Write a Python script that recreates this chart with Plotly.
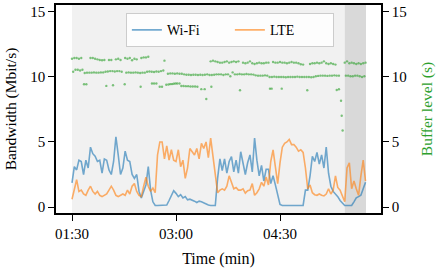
import plotly.graph_objects as go

# ---------------- data ----------------
time_s = list(range(90, 346, 2))  # seconds, 2-s samples

wifi = [
    1.85, 3.1, 2.85, 3.6, 3.5, 2.5, 3.6, 3.0, 4.6, 4.1, 3.9, 3.5, 3.6, 2.6, 3.7, 3.6,
    2.85, 2.5, 3.5, 5.4, 4.0, 2.5, 3.0, 4.3, 3.6, 3.5, 2.5, 2.2, 2.5, 1.2, 0.7, 1.3, 1.7,
    3.1, 1.3, 0.4, 0.12, 0.12, 0.12, 0.12, 0.12, 0.15, 0.5, 0.9, 1.25, 1.05, 0.8, 0.95, 0.7,
    0.8, 0.55, 0.6, 0.55, 0.45, 0.35, 0.45, 0.4, 0.3, 0.2, 0.15, 0.12, 0.12, 0.12, 2.2,
    3.7, 2.8, 3.7, 2.6, 3.5, 3.87, 2.7, 3.6, 2.6, 4.25, 3.3, 2.5, 3.4, 4.0, 2.7, 5.3,
    3.6, 2.4, 3.2, 2.0, 2.9, 2.9, 1.8, 2.4, 1.7, 1.0, 0.2,
    0.12, 0.12, 0.12, 0.12, 0.12, 0.12, 0.12, 0.12, 0.12, 0.12,
    1.3, 1.3, 2.4, 3.9, 3.5, 4.2, 3.3, 4.0, 3.0, 4.6, 2.6, 1.6, 1.2, 1.0, 0.8, 0.5,
    0.3, 0.12, 0.12, 0.12, 0.12, 0.4, 0.7, 0.8, 0.9, 1.4, 1.9,
]

lte = [
    0.6, 1.4, 2.1, 1.2, 1.3, 1.0, 0.9, 1.3, 1.6, 1.2, 1.0, 1.2, 0.9, 0.8, 0.9, 1.0,
    1.3, 1.6, 1.3, 0.9, 0.8, 0.9, 1.0, 0.9, 1.3, 1.0, 1.6, 1.8, 1.2, 0.9, 0.8, 1.6, 2.3,
    1.6, 1.2, 1.45, 1.1, 4.0, 5.0, 5.0, 3.7, 4.7, 3.6, 4.4, 3.6, 3.5, 4.4, 3.1, 3.6,
    2.2, 3.0, 4.5, 4.2, 4.0, 4.5, 3.7, 4.9, 4.5, 5.0, 3.8, 5.3, 4.0, 2.5, 1.1,
    1.3, 1.4, 1.3, 1.6, 2.4, 1.9, 1.4, 1.5, 1.3, 1.3, 1.4, 1.07, 1.25, 1.3, 1.8, 0.9,
    1.1, 1.4, 1.9, 1.6, 2.3, 1.7, 3.5, 4.4, 3.2, 1.8, 3.4,
    4.6, 4.9, 5.0, 5.2, 4.8, 4.8, 4.6, 4.3, 4.4, 4.2,
    3.0, 1.4, 1.7, 1.1, 0.95, 0.9, 1.0, 0.9, 0.85, 1.0, 1.4, 1.0, 1.3, 2.4, 1.5, 1.3,
    0.8, 0.4, 3.0, 3.4, 1.4, 2.0, 1.4, 0.9, 2.4, 3.6, 2.0,
]

# buffer level samples (upper band, lower band, sparse low samples)
buf_hi_t = list(range(90, 346, 2))
buf_hi = [
    11.4, 11.45, 11.45, 11.4, 11.45,
    None, None, None,
    11.45, 11.45, 11.4, 11.35, 11.3,
    11.28, 11.3,
    None,
    11.3, 11.3,
    None,
    11.35, 11.4, 11.3,
    None,
    11.45, 11.4, 11.45,
    11.28,
    11.4, 11.35,
    None,
    11.45, 11.5, 11.5, 11.55,
    None, None, None, None, None, None,
    11.25,
    None, None, None, None, None, None, None, None, None, None,
    None, None, None, None, None, None, None, None, None,
    11.2, 11.25, 11.2, 11.15, 11.1, 11.1, 11.15, 11.2, 11.1, 11.15, 11.2, 11.15, 11.2,
    None,
    11.1, 11.05, 11.1, 11.2, 11.05, 11.0, 11.05, 11.1, 11.05, 11.05, 11.1, 11.1,
    None,
    11.15, 11.1, 11.1, 11.15, 11.1, 11.1, 11.05, 11.1, 11.15, 11.1, 11.1, 11.05,
    10.97, 10.95,
    None, None,
    11.0, 11.05, 11.05, 11.1, 11.05, 11.1, 11.2, 11.05, 11.0, 11.05, 11.0, 10.95,
    None, None, None,
    11.1, 11.2, 11.05, 11.1, 11.05, 11.0, 11.05, 11.0, 11.05, 11.1,
]

buf_lo_t = list(range(91, 345, 2))
buf_lo = [
    10.4, 10.55, 10.55, 10.5, 10.55,
    10.3, 10.33, 10.33, 10.33, 10.35, 10.33, 10.33, 10.35, 10.35,
    10.4, 10.42, 10.45, 10.45, 10.42, 10.45, 10.45, 10.4,
    None,
    10.33, 10.35, 10.33, 10.33, 10.35, 10.33, 10.3, 10.33, 10.33,
    10.4, 10.42, 10.4, 10.38, 10.42, 10.4, 10.45, 10.5,
    None,
    10.25, 10.27, 10.27, 10.25, 10.27, 10.25, 10.25,
    10.2, 10.17, 10.17, 10.15, 10.17, 10.17, 10.15, 10.17, 10.15, 10.17,
    10.2, 10.15, 10.15, 10.17, 10.2, 10.2, 10.2, 10.15, 10.2, 10.2, 10.05,
    10.35, 10.2, 10.2, 10.22, 10.2, 10.2, 10.22, 10.2, 10.2, 10.18,
    10.12, 10.1, 10.1, 10.1, 10.12, 10.1,
    10.0, 10.0, 10.02, 10.0, 10.0, 10.0, 10.0, 9.98, 10.0, 10.0,
    10.0, 10.0, 10.02, 10.0, 10.0, 10.0, 10.0, 10.0, 9.98, 10.0,
    10.05, 10.08, 10.1, 10.1, 10.1, 10.08, 10.1, 10.1, 10.12, 10.1, 10.1,
    None, None,
    10.1, 10.1, 10.05, 10.05, 10.1, 10.1, 10.05, 10.0, 10.05,
]

buf_extra_t = [100.4, 102.4, 119.7, 125.5, 135.6, 149.4, 159.2, 161.0, 163.0, 165.9,
               167.9, 171.6, 173.5, 175.0, 176.5, 178.0, 179.5, 181.0, 183.0, 184.6,
               186.5, 188.5, 190.5, 192.5, 194.5, 196.5, 198.5, 201.9, 204.8, 206.2,
               210.6, 235.4, 261.3, 262.8, 271.5, 293.6, 319.1, 321.0, 322.8, 323.4, 324.2]
buf_extra = [9.44, 9.44, 9.31, 9.36, 9.44, 9.24, 9.49, 9.49, 9.49, 9.24,
             9.24, 9.4, 9.42, 9.45, 9.45, 9.48, 9.5, 9.5, 9.5, 9.3,
             9.3, 9.29, 9.29, 9.27, 9.27, 9.27, 9.25, 9.06, 9.06, 8.3,
             9.24, 8.98, 9.1, 9.1, 9.1, 8.98, 9.0, 9.05, 8.17, 7.02, 5.88]

shade_light = [90, 326]
shade_dark = [326, 344.4]

xtick_vals = [90, 180, 270]
xtick_text = ["01:30", "03:00", "04:30"]
ytick_vals = [0, 5, 10, 15]

assert len(wifi) == len(time_s) and len(lte) == len(time_s)
assert len(buf_hi) == len(buf_hi_t) and len(buf_lo) == len(buf_lo_t)

# ---------------- figure ----------------
FONT = "Liberation Serif"
buf_t, buf_v = [], []
for tt, vv in list(zip(buf_hi_t, buf_hi)) + list(zip(buf_lo_t, buf_lo)) + list(zip(buf_extra_t, buf_extra)):
    if vv is not None:
        buf_t.append(tt)
        buf_v.append(vv)

fig = go.Figure()
fig.add_trace(go.Scatter(x=buf_t, y=buf_v, mode="markers", yaxis="y2", showlegend=False,
                         marker=dict(size=2.4, color="rgba(44,160,44,0.6)", line=dict(width=0))))
fig.add_trace(go.Scatter(x=time_s, y=wifi, mode="lines", name="Wi-Fi",
                         line=dict(color="rgba(31,119,180,0.62)", width=1.6)))
fig.add_trace(go.Scatter(x=time_s, y=lte, mode="lines", name="LTE",
                         line=dict(color="rgba(255,127,14,0.62)", width=1.6)))

fig.add_shape(type="rect", xref="x", yref="paper", x0=shade_light[0], x1=shade_light[1],
              y0=0, y1=1, fillcolor="#f1f1f1", line=dict(width=0), layer="below")
fig.add_shape(type="rect", xref="x", yref="paper", x0=shade_dark[0], x1=shade_dark[1],
              y0=0, y1=1, fillcolor="#d9d9d9", line=dict(width=0), layer="below")

axis_common = dict(showline=True, linecolor="black", linewidth=1.5, ticks="outside",
                   ticklen=6, tickwidth=1.2, tickcolor="black", showgrid=False,
                   zeroline=False, tickfont=dict(family=FONT, size=15, color="black"))

fig.update_layout(
    width=438, height=269,
    margin=dict(l=56, r=57, t=3, b=56),
    paper_bgcolor="white", plot_bgcolor="white",
    font=dict(family=FONT, size=15, color="black"),
    xaxis=dict(range=[76.15, 357.4], tickvals=xtick_vals, ticktext=xtick_text, mirror=True,
               title=dict(text="Time (min)", font=dict(family=FONT, size=16), standoff=12),
               **axis_common),
    yaxis=dict(range=[-0.46, 15.53], tickvals=ytick_vals,
               title=dict(text="Bandwidth (Mbit/s)", font=dict(family=FONT, size=15.5), standoff=10),
               **axis_common),
    yaxis2=dict(range=[-0.46, 15.53], tickvals=ytick_vals, overlaying="y", side="right",
                title=dict(text="Buffer level (s)", font=dict(family=FONT, size=15.5, color="#2ca02c"),
                           standoff=15),
                **axis_common),
    legend=dict(orientation="h", x=0.535, xanchor="center", y=0.96, yanchor="top",
                bgcolor="rgba(255,255,255,0.85)", bordercolor="#cccccc", borderwidth=1,
                font=dict(family=FONT, size=14), itemwidth=30,
                entrywidth=58, entrywidthmode="pixels"),
    showlegend=True,
)

fig.write_html("out.html")
